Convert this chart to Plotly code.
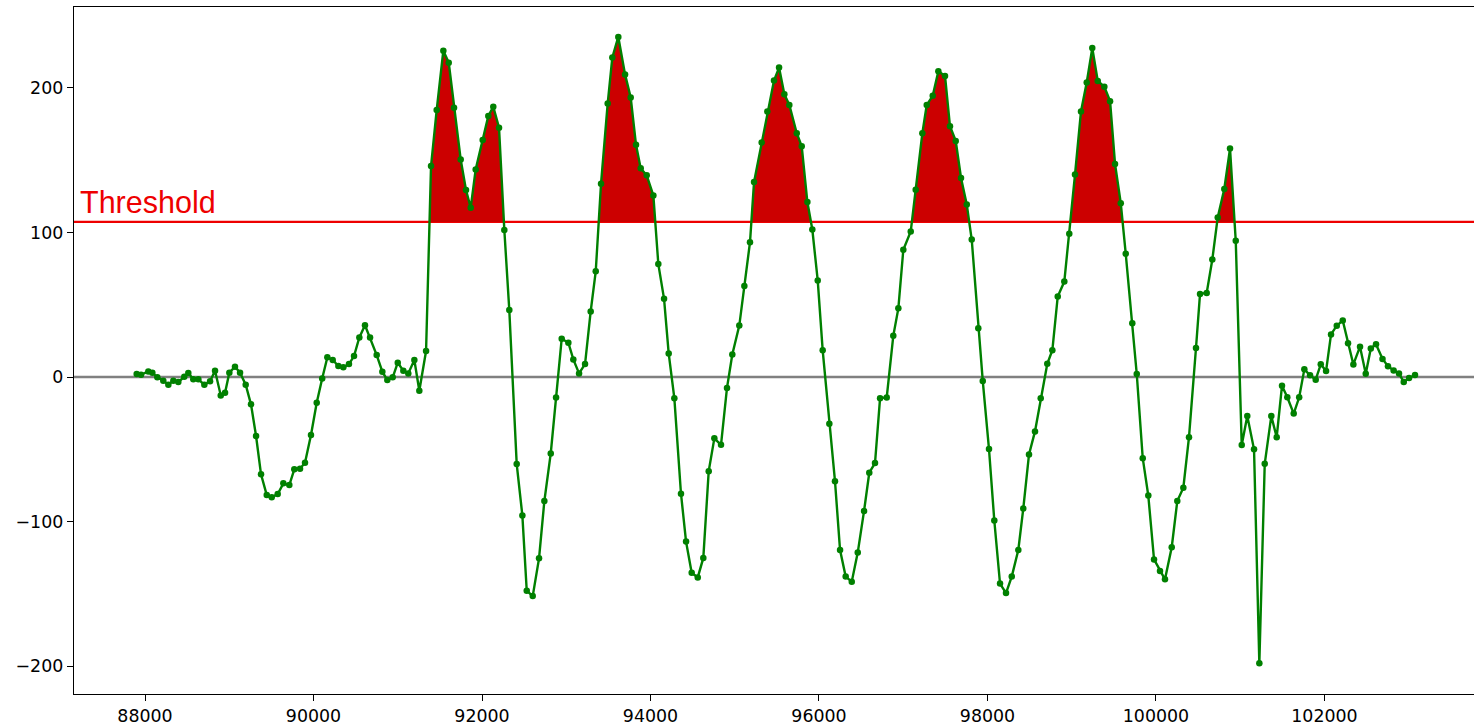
import plotly.graph_objects as go

# ---- data ----
x_vals = [87901, 87953, 88039, 88087, 88146, 88217, 88277, 88336, 88395, 88466,
          88514, 88573, 88633, 88704, 88772, 88831, 88899, 88950, 89001, 89068,
          89128, 89195, 89258, 89318, 89377, 89445, 89504, 89575, 89642, 89713,
          89772, 89840, 89899, 89970, 90038, 90103, 90164, 90228, 90295, 90354,
          90421, 90481, 90544, 90611, 90671, 90750, 90817, 90876, 90940, 91000,
          91066, 91125, 91197, 91256, 91336, 91395, 91462, 91541, 91605, 91668,
          91747, 91810, 91866, 91925, 92008, 92075, 92134, 92202, 92265, 92324,
          92412, 92479, 92531, 92602, 92677, 92740, 92816, 92879, 92946, 93025,
          93084, 93152, 93223, 93290, 93350, 93413, 93492, 93547, 93618, 93698,
          93765, 93828, 93884, 93955, 94034, 94093, 94161, 94216, 94283, 94362,
          94422, 94489, 94561, 94627, 94691, 94758, 94837, 94908, 94971, 95054,
          95114, 95181, 95229, 95320, 95387, 95466, 95526, 95589, 95648, 95736,
          95795, 95862, 95921, 95985, 96044, 96123, 96190, 96250, 96317, 96389,
          96460, 96535, 96597, 96665, 96725, 96804, 96882, 96942, 97001, 97089,
          97148, 97227, 97279, 97350, 97417, 97496, 97555, 97623, 97686, 97754,
          97813, 97891, 97944, 98018, 98081, 98149, 98220, 98288, 98366, 98425,
          98493, 98564, 98632, 98710, 98770, 98834, 98912, 98971, 99039, 99110,
          99178, 99244, 99309, 99387, 99455, 99514, 99582, 99641, 99719, 99772,
          99843, 99909, 99977, 100048, 100107, 100187, 100253, 100325, 100392, 100475,
          100523, 100602, 100669, 100733, 100811, 100879, 100947, 101018, 101084, 101164,
          101227, 101291, 101369, 101433, 101496, 101559, 101635, 101700, 101761, 101829,
          101896, 101956, 102019, 102078, 102146, 102217, 102280, 102343, 102422, 102490,
          102550, 102612, 102689, 102754, 102821, 102885, 102941, 103004, 103075]

y_vals = [2.1, 1.6, 3.9, 3.0, -0.2, -2.5, -5.3, -2.5, -3.5, 0.2,
          2.8, -1.6, -1.6, -5.3, -3.0, 4.4, -12.7, -10.8, 3.0, 7.1,
          3.0, -5.3, -18.9, -40.8, -67.3, -81.6, -83.2, -80.9, -73.5, -74.7,
          -63.8, -63.4, -59.3, -40.1, -17.8, -1.0, 13.6, 11.8, 7.6, 6.7,
          9.0, 14.5, 27.4, 35.8, 27.4, 15.2, 3.7, -2.1, -0.2, 9.9,
          4.4, 2.5, 11.8, -9.5, 18.0, 145.9, 184.6, 225.7, 217.4, 186.2,
          150.5, 129.3, 117.1, 143.6, 163.9, 180.5, 186.9, 172.4, 101.7, 46.3,
          -60.2, -95.7, -147.8, -151.5, -125.4, -85.8, -52.8, -14.1, 26.5, 23.7,
          12.2, 2.5, 9.0, 45.4, 73.1, 133.7, 189.2, 221.0, 235.2, 209.3,
          193.4, 160.6, 144.3, 139.5, 125.5, 78.1, 54.1, 16.3, -14.6, -80.7,
          -113.8, -135.4, -138.6, -125.1, -65.1, -42.4, -46.9, -7.5, 15.6, 35.6,
          62.9, 93.2, 134.8, 162.2, 183.7, 205.0, 214.0, 195.6, 188.2, 168.6,
          159.6, 121.0, 102.0, 66.8, 18.5, -32.3, -72.0, -119.6, -138.0, -141.5,
          -121.4, -92.6, -66.2, -59.5, -14.6, -14.1, 28.5, 47.5, 88.0, 100.6,
          129.5, 168.6, 188.2, 194.5, 211.4, 208.2, 173.4, 163.3, 137.7, 119.4,
          95.1, 33.7, -2.7, -49.8, -99.2, -142.8, -149.4, -138.0, -119.6, -91.0,
          -53.5, -37.6, -14.6, 9.2, 18.5, 55.7, 66.0, 99.1, 140.0, 183.7,
          203.7, 227.5, 204.8, 200.8, 190.8, 147.4, 120.2, 85.3, 37.2, 2.1,
          -56.1, -82.0, -126.1, -134.1, -139.9, -117.7, -85.8, -76.5, -41.6, 20.1,
          57.5, 58.1, 81.3, 110.4, 130.1, 158.0, 94.3, -47.0, -27.0, -50.0,
          -198.0, -60.0, -27.0, -41.6, -6.0, -14.0, -25.3, -14.0, 5.3, 1.2,
          -1.8, 8.8, 4.1, 29.5, 35.5, 39.1, 23.4, 8.7, 21.0, 2.3,
          19.8, 22.7, 12.5, 7.5, 4.6, 2.5, -3.5, -0.6, 1.4]

threshold = 107.3
threshold_label = "Threshold"
x_tick_vals = [88000, 90000, 92000, 94000, 96000, 98000, 100000, 102000]
x_tick_text = ["88000", "90000", "92000", "94000", "96000", "98000", "100000", "102000"]
y_tick_vals = [-200, -100, 0, 100, 200]
y_tick_text = ["\u2212200", "\u2212100", "0", "100", "200"]

# ---- fill regions above threshold (interpolated at crossings) ----
fill_x, fill_y = [], []
poly_x, poly_y = [], []
for i in range(len(x_vals)):
    xi, yi = x_vals[i], y_vals[i]
    if i > 0:
        xp, yp = x_vals[i - 1], y_vals[i - 1]
        if (yp - threshold) * (yi - threshold) < 0:
            xc = xp + (threshold - yp) * (xi - xp) / (yi - yp)
            if yi > threshold:
                poly_x, poly_y = [xc], [threshold]
            else:
                poly_x.append(xc); poly_y.append(threshold)
                fill_x += poly_x + [None]
                fill_y += poly_y + [None]
                poly_x, poly_y = [], []
    if yi > threshold:
        poly_x.append(xi); poly_y.append(yi)

fig = go.Figure()

# zero line
fig.add_trace(go.Scatter(x=[87000, 104000], y=[0, 0], mode="lines",
                         line=dict(color="#808080", width=2.6),
                         hoverinfo="skip", showlegend=False))
# threshold line
fig.add_trace(go.Scatter(x=[87000, 104000], y=[threshold, threshold], mode="lines",
                         line=dict(color="#ee0000", width=2.2),
                         hoverinfo="skip", showlegend=False))
# red fill
fig.add_trace(go.Scatter(x=fill_x, y=fill_y, mode="lines", fill="toself",
                         fillcolor="#cc0000", line=dict(width=0, color="#cc0000"),
                         hoverinfo="skip", showlegend=False))
# signal
fig.add_trace(go.Scatter(x=x_vals, y=y_vals, mode="lines+markers",
                         line=dict(color="green", width=2.4),
                         marker=dict(color="green", size=6.5),
                         showlegend=False))

fig.add_annotation(x=87205, y=threshold, xref="x", yref="y",
                   text=threshold_label, showarrow=False,
                   xanchor="left", yanchor="bottom", yshift=1.0,
                   font=dict(family="Liberation Sans, Arial, sans-serif",
                             size=30.5, color="#ee0000"))

tick_font = dict(family="DejaVu Sans, sans-serif", size=17.4, color="#000000")

fig.update_layout(
    width=1474, height=725,
    margin=dict(l=74, r=0, t=7, b=31),
    paper_bgcolor="white", plot_bgcolor="white",
    xaxis=dict(range=[87157, 103775], tickvals=x_tick_vals, ticktext=x_tick_text,
               showgrid=False, zeroline=False, showline=True, mirror=True,
               linecolor="#000000", linewidth=1.4, ticks="outside",
               ticklen=6, tickwidth=1.4, tickcolor="#000000", tickfont=tick_font),
    yaxis=dict(range=[-219.2, 255.9], tickvals=y_tick_vals, ticktext=y_tick_text,
               showgrid=False, zeroline=False, showline=True,
               linecolor="#000000", linewidth=1.4, ticks="outside",
               ticklen=6, tickwidth=1.4, tickcolor="#000000", tickfont=tick_font),
)

fig.write_html("out.html")
